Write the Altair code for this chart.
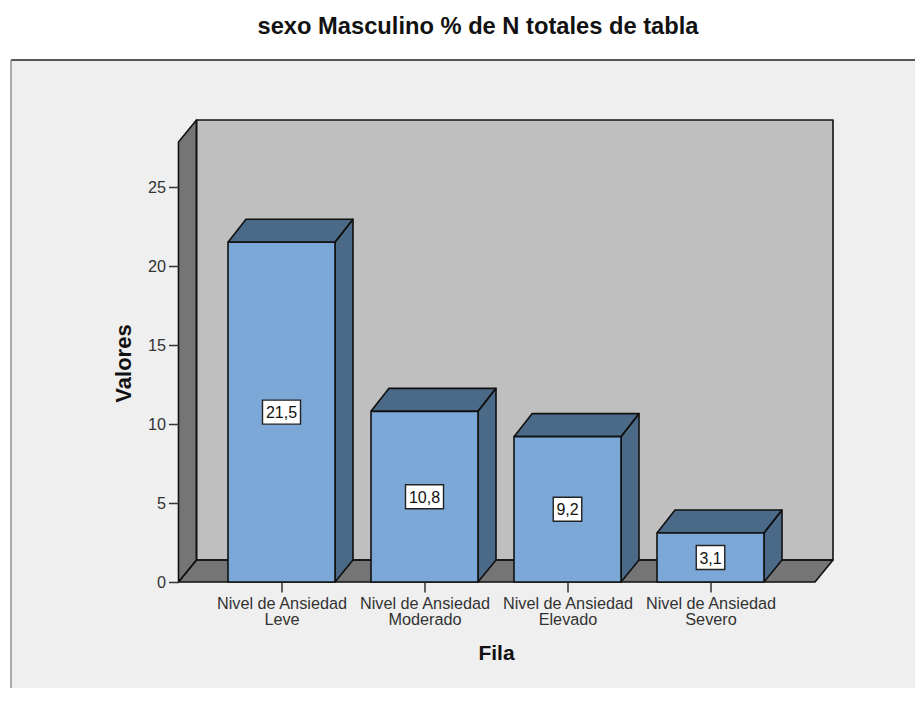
import json
import altair as alt
import pandas as pd

title = "sexo Masculino % de N totales de tabla"
categories = ["Nivel de Ansiedad|Leve", "Nivel de Ansiedad|Moderado",
              "Nivel de Ansiedad|Elevado", "Nivel de Ansiedad|Severo"]
values = [21.5, 10.8, 9.2, 3.1]
value_labels = ["21,5", "10,8", "9,2", "3,1"]
y_ticks = [0, 5, 10, 15, 20, 25]

W, H = 654, 462
PX, PY = 143.0, 15.8
X_MIN = -103 / PX
X_MAX = X_MIN + W / PX
Y_MAX = H / PY
DX, DY = 18 / PX, 22 / PY
BAR_DY = 23 / PY
HALF = 53.5 / PX
FLOOR_R = 3 + 104.5 / PX
FONT = "Liberation Sans"
INK = "#111111"
label_js = json.dumps(categories)

xs = alt.Scale(domain=[X_MIN, X_MAX], nice=False, zero=False)
ys = alt.Scale(domain=[0, Y_MAX], nice=False, zero=False)
AX = alt.Axis(
    values=[0, 1, 2, 3], labelExpr=f"split({label_js}[datum.value], '|')",
    title="Fila", titleX=317.5, titleY=71, titleBaseline="middle", titleFont=FONT,
    titleFontSize=21, titleFontWeight="bold", titleColor="#111111",
    domain=False, grid=False, tickSize=10, tickColor="#333333", tickWidth=1.5,
    labelFont=FONT, labelFontSize=16.25, labelColor="#333333", labelPadding=3,
    labelLineHeight=16.5, labelOverlap=False, labelFlush=False, zindex=1)
AY = alt.Axis(
    values=y_ticks, title="Valores", titleX=-55.5, titleY=243, titleBaseline="middle",
    titleFont=FONT, titleFontSize=22, titleFontWeight="bold", titleColor="#111111",
    domain=False, grid=False, tickSize=10, tickColor="#333333", tickWidth=1.5,
    labelFont=FONT, labelFontSize=16.25, labelColor="#333333", labelPadding=3, zindex=1)
X = alt.X("x:Q", scale=xs, axis=AX)
Y = alt.Y("y:Q", scale=ys, axis=AY)


def envelope(pts, gid, color):
    ux = sorted({p[0] for p in pts})
    rows = []
    n = len(pts)
    for u in ux:
        hits = []
        for i in range(n):
            a, b = pts[i], pts[(i + 1) % n]
            lo, hi = min(a[0], b[0]), max(a[0], b[0])
            if lo - 1e-9 <= u <= hi + 1e-9:
                if abs(a[0] - b[0]) < 1e-9:
                    hits += [a[1], b[1]]
                else:
                    hits.append(a[1] + (b[1] - a[1]) * (u - a[0]) / (b[0] - a[0]))
        rows.append(dict(x=u, y=min(hits), y2=max(hits), g=gid, c=color))
    return rows


def outline(pts, gid):
    loop = pts + [pts[0]]
    return [dict(x=p[0], y=p[1], o=i, g=gid) for i, p in enumerate(loop)]


def faces(polys):
    fill, line = [], []
    for gid, color, pts in polys:
        fill += envelope(pts, gid, color)
        line += outline(pts, gid)
    a = alt.Chart(pd.DataFrame(fill)).mark_area(opacity=1).encode(
        x=X, y=Y, y2="y2:Q", detail="g:N", fill=alt.Fill("c:N", scale=None))
    l = alt.Chart(pd.DataFrame(line)).mark_line(color=INK, strokeWidth=1.6, strokeJoin="round").encode(
        x=X, y=Y, detail="g:N", order="o:Q")
    return a + l


L, R = X_MIN, X_MIN + DX
BACK_R = FLOOR_R + DX
backdrop = [
    ("back", "#bfbfbf", [(R, DY), (BACK_R, DY), (BACK_R, Y_MAX), (R, Y_MAX)]),
    ("left", "#757575", [(L, 0), (R, DY), (R, Y_MAX), (L, Y_MAX - DY)]),
    ("floor", "#757575", [(L, 0), (R, DY), (BACK_R, DY), (FLOOR_R, 0)]),
]
bar_faces = []
for i, v in enumerate(values):
    a, b = i - HALF, i + HALF
    bar_faces.append((f"t{i}", "#4b6a87", [(a, v), (a + DX, v + BAR_DY), (b + DX, v + BAR_DY), (b, v)]))
    bar_faces.append((f"s{i}", "#4b6a87", [(b, 0), (b + DX, DY), (b + DX, v + BAR_DY), (b, v)]))

bars_df = pd.DataFrame({"x": [i - HALF for i in range(4)], "x2": [i + HALF for i in range(4)],
                        "y": values, "y0": [0] * 4})
front = alt.Chart(bars_df).mark_rect(fill="#7ba8d6", stroke=INK, strokeWidth=1.6).encode(
    x=X, x2="x2:Q", y=Y, y2="y0:Q")

lab_df = pd.DataFrame({
    "x": list(range(4)), "y": [v / 2 for v in values], "t": value_labels,
})
lab_df["bx"] = [i - len(t) * 4.75 / PX for i, t in enumerate(value_labels)]
lab_df["bx2"] = [i + len(t) * 4.75 / PX for i, t in enumerate(value_labels)]
lab_df["by"] = lab_df["y"] - 12 / PY
lab_df["by2"] = lab_df["y"] + 12 / PY
boxes = alt.Chart(lab_df).mark_rect(fill="white", stroke="#222222", strokeWidth=1.4).encode(
    x=alt.X("bx:Q", scale=xs, axis=AX), x2="bx2:Q",
    y=alt.Y("by:Q", scale=ys, axis=AY), y2="by2:Q")
texts = alt.Chart(lab_df).mark_text(font=FONT, fontSize=16, color="#111111", baseline="middle", dy=1).encode(
    x=X, y=Y, text="t:N")

PANEL_BOTTOM = 568
PANEL_RIGHT = 736.5
panel = alt.Chart(pd.DataFrame({"a": [0]})).mark_rect(fill="#efefef").encode(
    x=alt.value(-167.5), x2=alt.value(PANEL_RIGHT), y=alt.value(-60), y2=alt.value(PANEL_BOTTOM))
top_rule = alt.Chart(pd.DataFrame({"a": [0]})).mark_rule(color="#222222", strokeWidth=1.6).encode(
    x=alt.value(-167.5), x2=alt.value(PANEL_RIGHT), y=alt.value(-60))
left_rule = alt.Chart(pd.DataFrame({"a": [0]})).mark_rule(color="#8a8a8a", strokeWidth=1.4).encode(
    x=alt.value(-167.5), y=alt.value(-60), y2=alt.value(PANEL_BOTTOM))

chart = alt.layer(
    panel, top_rule, left_rule, faces(backdrop), faces(bar_faces), front, boxes, texts
).resolve_scale(x="shared", y="shared").properties(
    width=W, height=H,
    title=alt.TitleParams(title, font=FONT, fontSize=23.7, fontWeight="bold", color="#111111",
                          anchor="middle", dx=-27.5, offset=21),
    padding={"left": 170.5, "top": 112, "right": 82.5, "bottom": 106},
    autosize=alt.AutoSizeParams(type="none"),
).configure_view(stroke=None).configure(background="white")

chart.save("out.html", embed_options={"renderer": "svg", "actions": False})
